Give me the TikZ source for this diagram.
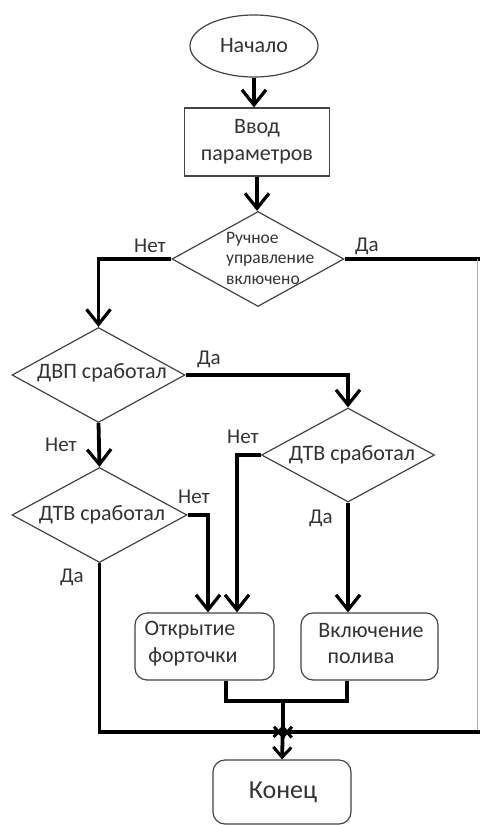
\documentclass[tikz,border=0pt]{standalone}
\usepackage{fontspec}
\setmainfont{Carlito}
\usetikzlibrary{shapes.geometric,arrows.meta}
\definecolor{txt}{HTML}{333333}
\definecolor{edge}{HTML}{444444}
\tikzset{
  shapeline/.style={draw=edge, line width=1.2pt},
  dia/.style={shape=diamond, shapeline, inner sep=0pt},
  boxr/.style={rectangle, shapeline, rounded corners=12pt, inner sep=0pt, align=center, text=txt, font=\fontsize{21}{27}\selectfont},
  lbl/.style={text=txt, font=\fontsize{21}{24}\selectfont, inner sep=0pt},
  dtxt/.style={text=txt, font=\fontsize{22}{26}\selectfont, inner sep=0pt},
  conn/.style={line width=3.8pt, line join=miter, black},
  arr/.style={conn, -{Straight Barb[length=15pt,width=24pt,line width=3.2pt]}},
  sarr/.style={conn, -{Straight Barb[length=10pt,width=18pt,line width=3pt]}},
}
\begin{document}
\begin{tikzpicture}[x=1pt,y=-1pt]
\useasboundingbox (0,0) rectangle (480,825);
\fill[white] (0,0) rectangle (480,825);

% nodes
\node[ellipse, shapeline, minimum width=128pt, minimum height=62pt, inner sep=0pt, text=txt, font=\fontsize{22}{25}\selectfont] (start) at (254,46) {Начало};
\node[rectangle, shapeline, minimum width=145pt, minimum height=68pt, inner sep=0pt, align=center, text=txt, font=\fontsize{22}{27}\selectfont] (inp) at (257,142) {Ввод\\параметров};

\node[dia, minimum width=172pt, minimum height=95pt] (d1) at (258,259) {};
\node[text=txt, font=\fontsize{17.5}{20.5}\selectfont, align=left, inner sep=0pt, anchor=west] (d1t) at (226,258) {Ручное\\управление\\включено};

\node[dia, minimum width=173pt, minimum height=95pt] (d2) at (98.5,375) {};
\node[dtxt] (d2t) at (102,373) {ДВП сработал};

\node[dia, minimum width=173pt, minimum height=94pt] (d3) at (348,455) {};
\node[dtxt] (d3t) at (352,455) {ДТВ сработал};

\node[dia, minimum width=175pt, minimum height=95pt] (d4) at (99.5,515) {};
\node[dtxt] (d4t) at (102,515) {ДТВ сработал};

\node[boxr, minimum width=139pt, minimum height=67pt] (open) at (204.5,646.5) {};
\node[dtxt] (opent1) at (190,630) {Открытие};
\node[dtxt] (opent2) at (193,657) {форточки};

\node[boxr, minimum width=137pt, minimum height=67pt] (incl) at (369.5,646.5) {};
\node[dtxt] (inclt1) at (371,631) {Включение};
\node[dtxt] (inclt2) at (361,658) {полива};

\node[boxr, minimum width=138pt, minimum height=64pt] (fin) at (282,792) {};
\node[text=txt, font=\fontsize{26}{30}\selectfont, inner sep=0pt] (fint) at (283,792) {Конец};

% labels
\node[lbl] (l1) at (150,246) {Нет};
\node[lbl] (l2) at (367,246) {Да};
\node[lbl] (l3) at (209,359) {Да};
\node[lbl] (l4) at (61,445) {Нет};
\node[lbl] (l5) at (243,437) {Нет};
\node[lbl] (l6) at (194,497) {Нет};
\node[lbl] (l7) at (321,518) {Да};
\node[lbl] (l8) at (72,577) {Да};

% coordinates
\coordinate (rtop) at (480,259);
\coordinate (redge) at (477,259);
\coordinate (rbot) at (477,732);
\coordinate (rbotx) at (480,732);
\coordinate (j) at (283,732);
\coordinate (jv) at (283,739);
\coordinate (ju) at (283,725);
\coordinate (m) at (283,701);
\coordinate (oa) at (226,701);
\coordinate (ob) at (347,701);

% connectors
\draw[arr] (start.south) -- (start.south |- inp.north);
\draw[arr] (inp.south) -- (inp.south |- d1.north);
\draw[arr] (d1.west) -| (d2.north);
\draw[conn] (d1.east) -- (rtop);
\draw[line width=0.8pt, black!30] (redge) -- (rbot);
\draw[conn] (rbotx) -- (j);
\draw[arr] (d2.east) -| (d3.north);
\draw[arr] (d2.south) -- (d4.north);
\draw[arr] (d3.west) -| ([xshift=32.5pt]open.north);
\draw[arr] (d4.east) -| ([xshift=3.5pt]open.north);
\draw[arr] (d3.south) -- (d3.south |- incl.north);
\draw[conn] (d4.south) |- (j);
\draw[conn] (open.south -| oa) -- (oa) -- (ob) -- (incl.south -| ob);
\draw[sarr] (m) -- (jv);
\draw[conn, {Straight Barb[length=10pt,width=18pt,line width=3pt]}-{Straight Barb[length=10pt,width=18pt,line width=3pt]}] (ju) -- (fin.north);
\end{tikzpicture}
\end{document}
